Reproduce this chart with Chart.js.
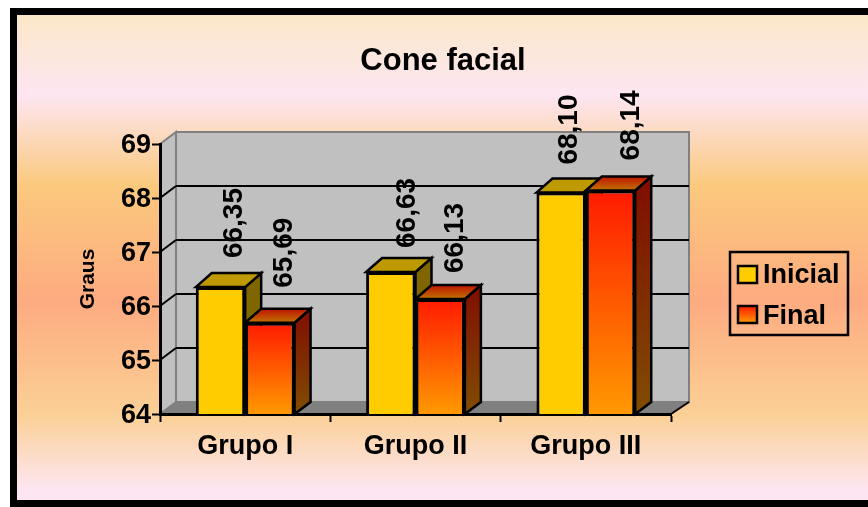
<!DOCTYPE html>
<html>
<head>
<meta charset="utf-8">
<title>Cone facial</title>
<script src="https://cdn.jsdelivr.net/npm/chart.js@4/dist/chart.umd.min.js"></script>
<style>
  html, body { margin: 0; padding: 0; background: #fff; }
  canvas { display: block; }
</style>
</head>
<body>
<canvas id="myChart" width="868" height="507"></canvas>
<script>
const chartTitle = "Cone facial";
const axisTitle = "Graus";
const groups = ["Grupo I", "Grupo II", "Grupo III"];
const inicial = [66.35, 66.63, 68.10];
const final = [65.69, 66.13, 68.14];
const gridValues = [65, 66, 67, 68];

const FONT = '"Liberation Sans", Arial, sans-serif';

// how far the rotated value labels sit above each bar's front face
const liftInicial = [29, 24, 28];
const liftFinal = [35, 26, 30];
// sideways shift of the same labels from the bar centre
const shiftInicial = [13, 15, 7];
const shiftFinal = [13, 14, 20];

// depth of the fake 3D box, in pixels
const wallDx = 16;
const wallDxRight = 18;
const wallDy = 12;
const barDx = 16;
const barDyTop = 14;
const barDyBottom = 12;

const poly = (ctx, pts, fill, stroke, width) => {
  ctx.beginPath();
  pts.forEach((p, i) => (i ? ctx.lineTo(p[0], p[1]) : ctx.moveTo(p[0], p[1])));
  ctx.closePath();
  if (fill) {
    ctx.fillStyle = fill;
    ctx.fill();
  }
  if (stroke) {
    ctx.strokeStyle = stroke;
    ctx.lineWidth = width;
    ctx.lineJoin = "miter";
    ctx.stroke();
  }
};

const seg = (ctx, x1, y1, x2, y2, color, width) => {
  ctx.beginPath();
  ctx.moveTo(x1, y1);
  ctx.lineTo(x2, y2);
  ctx.strokeStyle = color;
  ctx.lineWidth = width;
  ctx.stroke();
};

const vGradient = (ctx, y0, y1, top, bottom) => {
  const g = ctx.createLinearGradient(0, y0, 0, y1);
  g.addColorStop(0, top);
  g.addColorStop(1, bottom);
  return g;
};

// page background, box walls, floor and gridlines
const boxPlugin = {
  id: "box",
  beforeDraw(chart) {
    const ctx = chart.ctx;
    const g = ctx.createLinearGradient(0, 15, 0, 500);
    g.addColorStop(0, "#fbe8c8");
    g.addColorStop(0.165, "#fde6f2");
    g.addColorStop(0.35, "#fbc97e");
    g.addColorStop(0.588, "#fdab80");
    g.addColorStop(0.825, "#fbd096");
    g.addColorStop(0.98, "#fde6f2");
    g.addColorStop(1, "#fde6f2");
    ctx.save();
    ctx.fillStyle = "#fff";
    ctx.fillRect(0, 0, chart.width, chart.height);
    ctx.fillStyle = g;
    ctx.fillRect(17, 15, chart.width - 17, 485);
    ctx.fillStyle = "#000";
    ctx.fillRect(10, 8, chart.width - 10, 7);
    ctx.fillRect(10, 8, 7, 499);
    ctx.fillRect(10, 500, chart.width - 10, 7);

    const { left, right, top, bottom } = chart.chartArea;
    const backL = left + wallDx;
    const backR = right + wallDxRight;
    const backT = top - wallDy;
    const backB = bottom - wallDy;
    poly(ctx, [[left, bottom], [backL, backB], [backL, backT], [left, top]], "#c0c0c0", "#808080", 2);
    poly(ctx, [[backL, backT], [backR, backT], [backR, backB], [backL, backB]], "#c0c0c0", "#808080", 2);
    poly(ctx, [[left, bottom], [right, bottom], [backR, backB], [backL, backB]], "#808080");
    seg(ctx, right, bottom, backR, backB, "#000", 2);
    gridValues.forEach((v) => {
      const y = chart.scales.y.getPixelForValue(v);
      seg(ctx, left, y, backL, y - wallDy, "#000", 2);
      seg(ctx, backL, y - wallDy, backR, y - wallDy, "#000", 2);
    });
    ctx.restore();
  },
  // side and top faces go under the front faces the library draws
  beforeDatasetsDraw(chart) {
    const ctx = chart.ctx;
    ctx.save();
    chart.data.datasets.forEach((ds, i) => {
      chart.getDatasetMeta(i).data.forEach((bar) => {
        const l = bar.x - bar.width / 2;
        const r = bar.x + bar.width / 2;
        const t = bar.y;
        const b = chart.chartArea.bottom;
        let sideFill = "#7f6600";
        let topFill = "#bf9900";
        if (i === 1) {
          sideFill = vGradient(ctx, t - barDyTop, b, "#800d00", "#804d00");
          topFill = vGradient(ctx, t - barDyTop, t, "#bf1300", "#bf7300");
        }
        const side = [[r, b], [r + barDx, b - barDyBottom], [r + barDx, t - barDyTop], [r, t]];
        const lid = [[l, t], [l + barDx, t - barDyTop], [r + barDx, t - barDyTop], [r, t]];
        poly(ctx, side, sideFill, "#000", 2.5);
        poly(ctx, lid, topFill, "#000", 2.5);
      });
    });
    ctx.restore();
  },
  afterDatasetsDraw(chart) {
    const ctx = chart.ctx;
    ctx.save();
    ctx.fillStyle = "#000";

    // rotated value labels
    ctx.font = "bold 28px " + FONT;
    ctx.textAlign = "left";
    ctx.textBaseline = "middle";
    chart.data.datasets.forEach((ds, i) => {
      const lifts = i === 0 ? liftInicial : liftFinal;
      const shifts = i === 0 ? shiftInicial : shiftFinal;
      chart.getDatasetMeta(i).data.forEach((bar, j) => {
        ctx.save();
        ctx.translate(bar.x + shifts[j], bar.y - lifts[j]);
        ctx.rotate(-Math.PI / 2);
        ctx.fillText(ds.data[j].toFixed(2).replace(".", ","), 0, 1);
        ctx.restore();
      });
    });

    // title
    ctx.font = "bold 31px " + FONT;
    ctx.textAlign = "center";
    ctx.textBaseline = "alphabetic";
    ctx.fillText(chartTitle, 443, 70);

    // legend box
    poly(ctx, [[730, 252], [848, 252], [848, 335], [730, 335]], null, "#000", 2.5);
    ctx.font = "bold 27px " + FONT;
    ctx.textAlign = "left";
    chart.data.datasets.forEach((ds, i) => {
      const y = 266 + i * 40;
      const fill = i === 0 ? "#ffcc00" : vGradient(ctx, y, y + 17, "#ff1a00", "#ff9900");
      poly(ctx, [[738, y], [757, y], [757, y + 17], [738, y + 17]], fill, "#000", 2.5);
      ctx.fillStyle = "#000";
      ctx.fillText(ds.label, 763, 283 + i * 41);
    });
    ctx.restore();
  },
};

const redToOrange = (context) => {
  const chart = context.chart;
  if (!chart.chartArea || context.raw === undefined) return "#ff5000";
  const y = chart.scales.y.getPixelForValue(context.raw);
  return vGradient(chart.ctx, y, chart.chartArea.bottom, "#ff1a00", "#ff9900");
};

new Chart(document.getElementById("myChart"), {
  type: "bar",
  plugins: [boxPlugin],
  data: {
    labels: groups,
    datasets: [
      { label: "Inicial", data: inicial, backgroundColor: "#ffcc00" },
      { label: "Final", data: final, backgroundColor: redToOrange },
    ],
  },
  options: {
    responsive: false,
    animation: false,
    devicePixelRatio: 1,
    layout: { padding: { top: 144, right: 197 } },
    datasets: {
      bar: {
        categoryPercentage: 0.58,
        barPercentage: 1,
        borderColor: "#000",
        borderWidth: 3,
      },
    },
    plugins: { legend: { display: false }, tooltip: { enabled: false } },
    scales: {
      x: {
        afterFit(scale) {
          scale.height = 93;
        },
        grid: { drawOnChartArea: false, tickLength: 8, tickColor: "#000", tickWidth: 2 },
        border: { color: "#000", width: 3 },
        ticks: {
          color: "#000",
          padding: 8,
          maxRotation: 0,
          font: { family: FONT, size: 27, weight: "bold" },
        },
      },
      y: {
        min: 64,
        max: 69,
        afterFit(scale) {
          scale.width = 160;
        },
        title: {
          display: true,
          text: axisTitle,
          color: "#000",
          padding: { top: 76, bottom: 0 },
          font: { family: FONT, size: 21, weight: "bold" },
        },
        grid: { drawOnChartArea: false, tickLength: 8, tickColor: "#000", tickWidth: 2 },
        border: { color: "#000", width: 3 },
        ticks: {
          stepSize: 1,
          color: "#000",
          padding: 1,
          labelOffset: 2,
          font: { family: FONT, size: 27, weight: "bold" },
        },
      },
    },
  },
});
</script>
</body>
</html>
